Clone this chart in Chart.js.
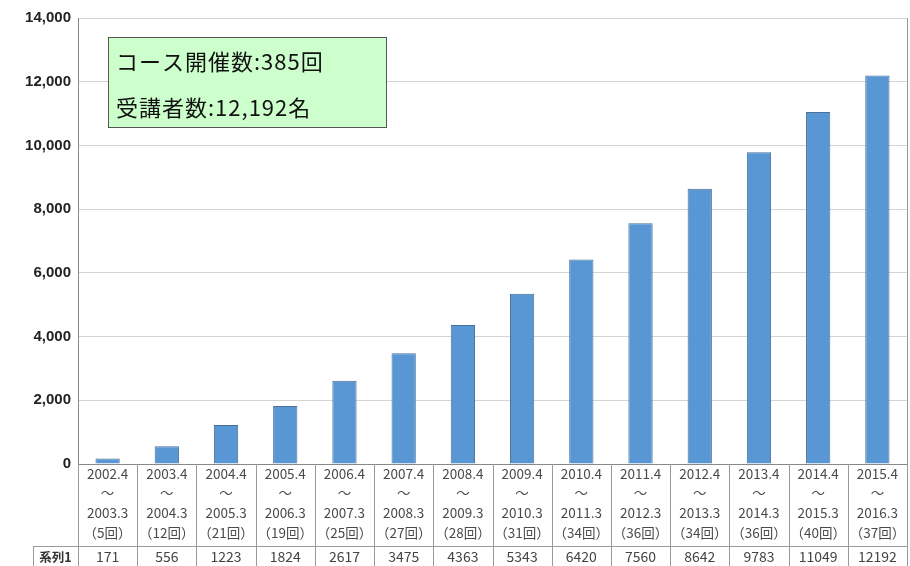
<!DOCTYPE html>
<html>
<head>
<meta charset="utf-8">
<script src="https://cdn.jsdelivr.net/npm/chart.js@4.4.1/dist/chart.umd.min.js"></script>
<style>
  html, body { margin: 0; padding: 0; background: #fff; }
  #wrap { width: 910px; height: 566px; }
</style>
</head>
<body>
<div id="wrap"><canvas id="myChart" width="910" height="566"></canvas></div>
<script>
const periodStart = ["2002.4", "2003.4", "2004.4", "2005.4", "2006.4", "2007.4", "2008.4",
  "2009.4", "2010.4", "2011.4", "2012.4", "2013.4", "2014.4", "2015.4"]
const periodEnd = ["2003.3", "2004.3", "2005.3", "2006.3", "2007.3", "2008.3", "2009.3",
  "2010.3", "2011.3", "2012.3", "2013.3", "2014.3", "2015.3", "2016.3"]
const sessions = [5, 12, 21, 19, 25, 27, 28, 31, 34, 36, 34, 36, 40, 37]
const participants = [171, 556, 1223, 1824, 2617, 3475, 4363, 5343, 6420, 7560, 8642, 9783, 11049, 12192]
const seriesName = "系列1"
const summaryLines = ["コース開催数:385回", "受講者数:12,192名"]

const labels = periodStart.map((s, i) => [s, "～", periodEnd[i], "（" + sessions[i] + "回）"])

const jpFont = "'Noto Sans CJK JP', 'Noto Sans', sans-serif"

// table lines under the axis + data row + info box
const tablePlugin = {
  id: "tablePlugin",
  afterDraw(chart) {
    const ctx = chart.ctx
    const x = chart.scales.x
    const area = chart.chartArea
    const bottom = chart.height
    const colW = x.width / labels.length
    const rowTop = 546

    ctx.save()
    ctx.strokeStyle = "#9a9a9a"
    ctx.lineWidth = 1

    // right border of plot
    ctx.beginPath()
    ctx.moveTo(area.right + 0.5, area.top)
    ctx.lineTo(area.right + 0.5, area.bottom)
    ctx.stroke()

    // column separators
    for (let i = 0; i <= labels.length; i++) {
      const px = Math.round(x.getPixelForValue(0) - colW / 2 + i * colW) + 0.5
      ctx.beginPath()
      ctx.moveTo(px, area.bottom)
      ctx.lineTo(px, bottom)
      ctx.stroke()
    }

    // data row
    const rowLeft = 33
    ctx.beginPath()
    ctx.moveTo(rowLeft, rowTop + 0.5)
    ctx.lineTo(area.right + 1, rowTop + 0.5)
    ctx.moveTo(rowLeft + 0.5, rowTop)
    ctx.lineTo(rowLeft + 0.5, bottom)
    ctx.stroke()

    ctx.fillStyle = "#333"
    ctx.textBaseline = "middle"
    ctx.textAlign = "center"
    ctx.font = "bold 12.5px " + jpFont
    ctx.fillText(seriesName, (rowLeft + area.left) / 2, 557)
    ctx.font = "14px " + jpFont
    ctx.fillStyle = "#444"
    participants.forEach((v, i) => {
      ctx.fillText(String(v), x.getPixelForValue(i), 557)
    })

    // summary box
    ctx.fillStyle = "#ccffcc"
    ctx.fillRect(108, 37, 278, 90)
    ctx.strokeStyle = "#555"
    ctx.strokeRect(108.5, 37.5, 278, 90)
    ctx.fillStyle = "#111"
    ctx.textAlign = "left"
    ctx.font = "22px " + jpFont
    ctx.letterSpacing = "1px"
    ctx.fillText(summaryLines[0], 116, 62)
    ctx.fillText(summaryLines[1], 116, 108)
    ctx.restore()
  }
}

const ctx = document.getElementById("myChart").getContext("2d")
const myChart = new Chart(ctx, {
  type: "bar",
  data: {
    labels: labels,
    datasets: [{
      label: seriesName,
      data: participants,
      backgroundColor: "#5897d4",
      borderColor: "#4a6f98",
      borderWidth: 1,
      barPercentage: 0.41,
      categoryPercentage: 1
    }]
  },
  options: {
    responsive: false,
    animation: false,
    layout: { padding: { top: 18, right: 3, bottom: 0, left: 0 } },
    plugins: {
      legend: { display: false },
      tooltip: { enabled: false }
    },
    scales: {
      x: {
        offset: true,
        grid: { display: false, drawTicks: false },
        border: { display: true, color: "#888" },
        ticks: {
          autoSkip: false,
          maxRotation: 0,
          padding: 0,
          color: "#4a4a4a",
          font: { family: jpFont, size: 13.5, lineHeight: 1.45 }
        },
        afterFit(scale) { scale.height = 102 }
      },
      y: {
        min: 0,
        max: 14000,
        grid: { color: "#d4d4d4", drawTicks: false },
        border: { display: true, color: "#888" },
        ticks: {
          stepSize: 2000,
          padding: 7,
          color: "#222",
          font: { family: "'Liberation Sans', Arial, sans-serif", size: 15, weight: "bold" },
          callback: (v) => v.toLocaleString("en-US")
        },
        afterFit(scale) { scale.width = 78 }
      }
    }
  },
  plugins: [tablePlugin]
})
</script>
</body>
</html>
